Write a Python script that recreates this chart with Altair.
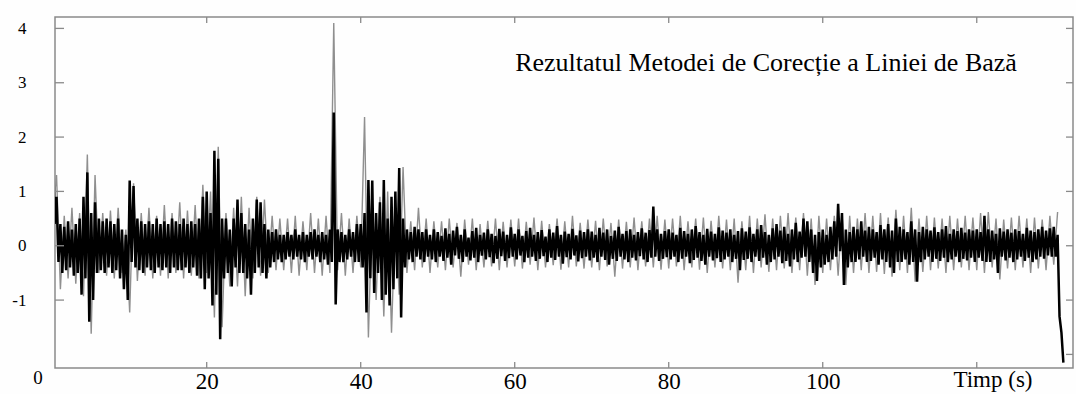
import altair as alt
import pandas as pd

# ---- signal: black trace, local high / low every 0.5 s ----
BLACK_STEP = 0.5
BLACK_HI = [
    2.05, 0.9, 0.4, 0.35, 0.45, 0.3, 0.4, 0.5, 0.9, 1.35, 0.6, 0.8, 0.5, 0.45, 0.5, 0.45, 0.4, 0.5, 0.3, 0.2,
    1.2, 1.1, 0.5, 0.45, 0.4, 0.45, 0.4, 0.5, 0.4, 0.45, 0.4, 0.5, 0.45, 0.4, 0.5, 0.4, 0.45, 0.4, 0.5, 0.9,
    1.0, 0.6, 1.75, 1.6, 0.5, 0.5, 0.3, 0.5, 0.85, 0.6, 0.4, 0.3, 0.5, 0.85, 0.8, 0.4, 0.3, 0.25, 0.3, 0.2,
    0.2, 0.25, 0.2, 0.3, 0.2, 0.25, 0.2, 0.25, 0.3, 0.2, 0.25, 0.2, 0.3, 2.45, 0.3, 0.25, 0.2, 0.3, 0.25, 0.4,
    0.4, 0.6, 1.21, 1.2, 0.6, 0.8, 1.21, 0.5, 0.9, 1.0, 1.43, 0.5, 0.3, 0.25, 0.35, 0.3, 0.25, 0.3, 0.2, 0.3,
    0.25, 0.18, 0.32, 0.22, 0.28, 0.35, 0.2, 0.3, 0.15, 0.27, 0.33, 0.2, 0.24, 0.3, 0.22, 0.18, 0.31, 0.26, 0.2, 0.34,
    0.22, 0.3, 0.18, 0.27, 0.33, 0.2, 0.25, 0.29, 0.17, 0.3, 0.24, 0.36, 0.2, 0.26, 0.22, 0.31, 0.19, 0.28, 0.25, 0.3,
    0.26, 0.2, 0.33, 0.24, 0.3, 0.18, 0.28, 0.35, 0.22, 0.27, 0.3, 0.2, 0.25, 0.32, 0.24, 0.29, 0.72, 0.3, 0.22, 0.27,
    0.3, 0.24, 0.2, 0.33, 0.27, 0.22, 0.3, 0.36, 0.25, 0.2, 0.31, 0.26, 0.22, 0.34, 0.28, 0.24, 0.3, 0.2, 0.27, 0.32,
    0.26, 0.34, 0.22, 0.3, 0.38, 0.25, 0.2, 0.32, 0.4, 0.28, 0.35, 0.22, 0.3, 0.42, 0.26, 0.5, 0.45, 0.3, 0.2, 0.25,
    0.3, 0.2, 0.35, 0.45, 0.77, 0.6, 0.3, 0.25, 0.35, 0.3, 0.45, 0.28, 0.35, 0.3, 0.25, 0.38, 0.3, 0.4, 0.28, 0.5,
    0.35, 0.3, 0.25, 0.45, 0.3, 0.25, 0.35, 0.3, 0.28, 0.34, 0.25, 0.3, 0.36, 0.22, 0.3, 0.27, 0.33, 0.24, 0.3, 0.28,
    0.3, 0.25, 0.55, 0.3, 0.28, 0.22, 0.32, 0.26, 0.3, 0.24, 0.3, 0.27, 0.22, 0.33, 0.28, 0.25, 0.3, 0.35, 0.28, 0.32,
    0.35, 0.2, -1.6,
]
BLACK_LO = [
    0.4, -0.3, -0.5, -0.45, -0.4, -0.55, -0.5, -0.9, -0.6, -1.4, -1.0, -0.5, -0.45, -0.5, -0.4, -0.5, -0.45, -0.6, -0.8, -1.0,
    -0.3, -0.4, -0.45, -0.5, -0.4, -0.45, -0.5, -0.4, -0.45, -0.4, -0.5, -0.4, -0.45, -0.45, -0.4, -0.5, -0.4, -0.55, -0.6, -0.8,
    -0.6, -1.1, -0.9, -1.72, -0.6, -0.5, -0.75, -0.4, -0.5, -0.5, -0.6, -0.9, -0.5, -0.4, -0.5, -0.6, -0.4, -0.3, -0.25, -0.3,
    -0.25, -0.2, -0.25, -0.2, -0.25, -0.3, -0.2, -0.25, -0.2, -0.3, -0.25, -0.35, -0.3, -1.08, -0.3, -0.3, -0.25, -0.2, -0.3, -0.3,
    -0.4, -1.23, -0.6, -0.87, -0.5, -1.0, -0.9, -1.1, -0.8, -0.6, -1.32, -0.4, -0.25, -0.3, -0.2, -0.25, -0.3, -0.2, -0.25, -0.3,
    -0.2, -0.28, -0.22, -0.35, -0.18, -0.24, -0.3, -0.2, -0.27, -0.22, -0.3, -0.18, -0.25, -0.21, -0.32, -0.24, -0.19, -0.28, -0.23, -0.2,
    -0.25, -0.18, -0.3, -0.22, -0.2, -0.28, -0.24, -0.19, -0.3, -0.22, -0.26, -0.2, -0.33, -0.21, -0.25, -0.18, -0.29, -0.23, -0.2, -0.27,
    -0.22, -0.3, -0.2, -0.26, -0.35, -0.24, -0.28, -0.2, -0.25, -0.3, -0.22, -0.27, -0.19, -0.25, -0.3, -0.22, -0.2, -0.28, -0.24, -0.21,
    -0.25, -0.2, -0.3, -0.24, -0.2, -0.32, -0.26, -0.22, -0.28, -0.35, -0.2, -0.27, -0.23, -0.3, -0.25, -0.2, -0.3, -0.24, -0.45, -0.26,
    -0.24, -0.3, -0.2, -0.28, -0.22, -0.35, -0.3, -0.25, -0.2, -0.32, -0.28, -0.38, -0.25, -0.3, -0.22, -0.2, -0.3, -0.5, -0.65, -0.4,
    -0.35, -0.3, -0.25, -0.2, -0.1, -0.72, -0.4, -0.3, -0.3, -0.25, -0.2, -0.3, -0.28, -0.22, -0.35, -0.25, -0.3, -0.4, -0.5, -0.3,
    -0.3, -0.25, -0.35, -0.3, -0.66, -0.3, -0.25, -0.2, -0.3, -0.24, -0.28, -0.22, -0.3, -0.25, -0.2, -0.3, -0.24, -0.27, -0.22, -0.3,
    -0.22, -0.28, -0.3, -0.3, -0.25, -0.5, -0.2, -0.27, -0.22, -0.3, -0.25, -0.2, -0.28, -0.22, -0.3, -0.25, -0.2, -0.24, -0.18, -0.2,
    -0.2, -1.3, -2.15,
]

# ---- grey trace: local low / high every 1 s ----
GRAY_STEP = 1.0
GRAY_LO = [
    0.6, -0.8, -0.6, -0.7, -0.93, -1.62, -0.5, -0.55, -0.6, -0.5,
    -1.23, -0.65, -0.55, -0.6, -0.55, -0.6, -0.5, -0.6, -0.55, -0.6,
    -0.5, -1.32, -1.5, -0.75, -0.75, -0.93, -0.6, -0.55, -0.5, -0.45,
    -0.45, -0.5, -0.55, -0.45, -0.5, -0.55, -0.5, -0.45, -0.55, -0.5,
    -0.4, -1.69, -1.0, -1.3, -1.6, -0.9, -0.5, -0.45, -0.4, -0.5,
    -0.4, -0.45, -0.4, -0.57, -0.35, -0.45, -0.4, -0.38, -0.45, -0.4,
    -0.38, -0.42, -0.35, -0.45, -0.4, -0.36, -0.44, -0.4, -0.38, -0.42,
    -0.4, -0.45, -0.38, -0.57, -0.42, -0.4, -0.45, -0.38, -0.4, -0.44,
    -0.42, -0.38, -0.45, -0.4, -0.44, -0.5, -0.4, -0.42, -0.45, -0.68,
    -0.45, -0.5, -0.4, -0.48, -0.45, -0.42, -0.5, -0.45, -0.55, -0.72,
    -0.5, -0.45, -0.55, -0.72, -0.5, -0.45, -0.5, -0.48, -0.52, -0.57,
    -0.45, -0.5, -0.66, -0.48, -0.45, -0.42, -0.5, -0.45, -0.4, -0.45,
    -0.45, -0.5, -0.4, -0.62, -0.42, -0.45, -0.4, -0.5, -0.42, -0.45,
    -0.35,
]
GRAY_HI = [
    1.3, 0.55, 0.7, 0.6, 1.68, 1.3, 0.6, 0.65, 0.7, 0.3,
    1.15, 0.6, 0.7, 0.55, 0.75, 0.6, 0.8, 0.65, 0.75, 1.12,
    1.0, 1.82, 0.6, 0.7, 0.9, 0.7, 0.9, 0.85, 0.55, 0.5,
    0.5, 0.55, 0.45, 0.6, 0.5, 0.55, 4.1, 0.6, 0.5, 0.55,
    2.37, 0.8, 0.9, 1.0, 0.6, 1.45, 0.45, 0.7, 0.5, 0.45,
    0.45, 0.5, 0.42, 0.48, 0.5, 0.4, 0.46, 0.5, 0.44, 0.48,
    0.5, 0.44, 0.52, 0.46, 0.4, 0.5, 0.45, 0.55, 0.42, 0.48,
    0.46, 0.5, 0.42, 0.48, 0.44, 0.52, 0.45, 0.5, 0.55, 0.48,
    0.5, 0.55, 0.45, 0.5, 0.52, 0.46, 0.55, 0.48, 0.5, 0.45,
    0.55, 0.5, 0.58, 0.5, 0.55, 0.6, 0.52, 0.6, 0.5, 0.55,
    0.5, 0.55, 0.6, 0.55, 0.5, 0.6, 0.55, 0.6, 0.52, 0.66,
    0.55, 0.7, 0.5, 0.55, 0.52, 0.5, 0.55, 0.5, 0.55, 0.52,
    0.6, 0.62, 0.5, 0.48, 0.52, 0.55, 0.5, 0.52, 0.48, 0.55,
    0.62,
]

X_TICKS = [20, 40, 60, 80, 100, 120]
X_LABEL_TICKS = [20, 40, 60, 80, 100]
Y_TICKS_LEFT = [-1, 0, 1, 2, 3, 4]
Y_TICKS_RIGHT = [-2, -1, 0, 1, 2, 3, 4]
TITLE = "Rezultatul Metodei de Corecție a Liniei de Bază"
X_UNIT = "Timp (s)"

# ---- tables ----
black_rows = []
for i, (h, l) in enumerate(zip(BLACK_HI, BLACK_LO)):
    t = i * BLACK_STEP
    black_rows.append({"t": t, "v": h})
    black_rows.append({"t": t + BLACK_STEP / 2, "v": l})
gray_rows = []
for k, (l, h) in enumerate(zip(GRAY_LO, GRAY_HI)):
    t = k * GRAY_STEP
    gray_rows.append({"t": t, "v": l})
    gray_rows.append({"t": t + GRAY_STEP / 2, "v": h})
black_df = pd.DataFrame(black_rows)
gray_df = pd.DataFrame(gray_rows)

FONT = "Liberation Serif"
FRAME = "#8a8a8a"
W, H = 1018, 351

xscale = alt.Scale(domain=[0.3, 132.5], nice=False, zero=False)
yscale = alt.Scale(domain=[-2.25, 4.21], nice=False, zero=False)

x_axis = alt.Axis(values=X_LABEL_TICKS, title=None, grid=False, domain=False, ticks=False, tickSize=0,
                  labelFont=FONT, labelFontSize=23, labelColor="#000000",
                  labelBaseline="alphabetic", labelPadding=20)
y_axis = alt.Axis(values=Y_TICKS_LEFT, title=None, grid=False, domain=False, ticks=False, tickSize=0,
                  labelFont=FONT, labelFontSize=17, labelColor="#000000",
                  labelExpr="'' + datum.value", labelPadding=29)

gray_line = alt.Chart(gray_df).mark_line(color="#8f8f8f", strokeWidth=1.4, clip=True).encode(
    x=alt.X("t:Q", scale=xscale, axis=x_axis),
    y=alt.Y("v:Q", scale=yscale, axis=y_axis),
)
black_line = alt.Chart(black_df).mark_line(color="#000000", strokeWidth=2.5, clip=True).encode(
    x=alt.X("t:Q", scale=xscale),
    y=alt.Y("v:Q", scale=yscale),
)

xt = pd.DataFrame({"t": X_TICKS})
ylt = pd.DataFrame({"v": Y_TICKS_LEFT})
yrt = pd.DataFrame({"v": Y_TICKS_RIGHT})

top_ticks = alt.Chart(xt).mark_rule(color=FRAME, strokeWidth=1.3).encode(
    x=alt.X("t:Q", scale=xscale), y=alt.value(0), y2=alt.value(6))
bottom_ticks = alt.Chart(xt).mark_rule(color=FRAME, strokeWidth=1.3).encode(
    x=alt.X("t:Q", scale=xscale), y=alt.value(H - 6), y2=alt.value(H))
left_ticks = alt.Chart(ylt).mark_rule(color=FRAME, strokeWidth=1.3).encode(
    y=alt.Y("v:Q", scale=yscale), x=alt.value(0), x2=alt.value(9))
right_ticks = alt.Chart(yrt).mark_rule(color=FRAME, strokeWidth=1.3).encode(
    y=alt.Y("v:Q", scale=yscale), x=alt.value(W - 7), x2=alt.value(W))

title_text = alt.Chart(pd.DataFrame({"s": [TITLE]})).mark_text(
    font=FONT, fontSize=26, color="#000000", align="center", baseline="middle"
).encode(text="s:N", x=alt.value(711), y=alt.value(46))

unit_text = alt.Chart(pd.DataFrame({"s": [X_UNIT]})).mark_text(
    font=FONT, fontSize=23, color="#000000", align="center", baseline="alphabetic"
).encode(text="s:N", x=alt.value(938), y=alt.value(H + 19))

origin_text = alt.Chart(pd.DataFrame({"s": ["0"]})).mark_text(
    font=FONT, fontSize=19, color="#000000", align="center", baseline="alphabetic"
).encode(text="s:N", x=alt.value(-17), y=alt.value(H + 16))

chart = alt.layer(
    gray_line, black_line, top_ticks, bottom_ticks, left_ticks, right_ticks,
    title_text, unit_text, origin_text,
).properties(
    width=W, height=H,
    autosize=alt.AutoSizeParams(type="none"),
    padding={"left": 55, "top": 17, "right": 3, "bottom": 26},
    background="#fefefe",
).configure_view(
    stroke=FRAME, strokeWidth=1.5
).configure_axis(
    labelFont=FONT, labelColor="#000000"
)

chart.save("out.html", embed_options={"renderer": "svg", "actions": False})
